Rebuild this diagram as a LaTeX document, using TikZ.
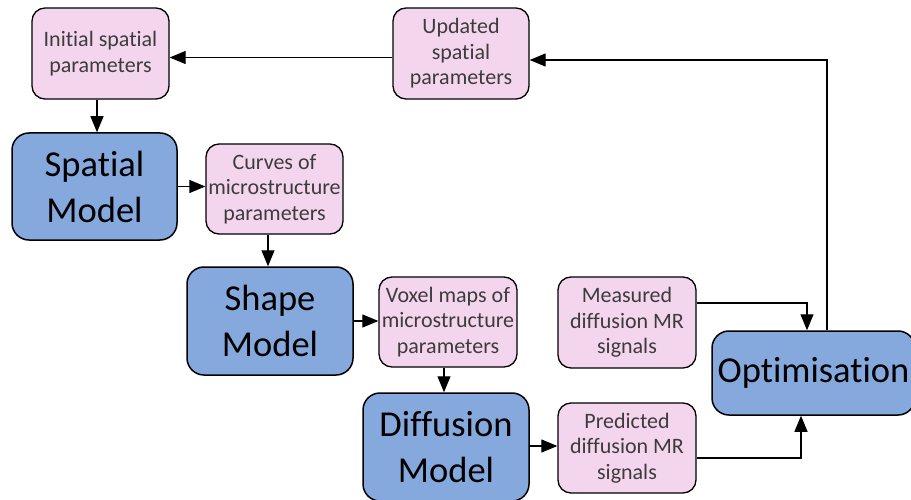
\documentclass[tikz,border=0pt]{standalone}
\usepackage{fontspec}
\setmainfont{Carlito}[Ligatures={NoCommon,NoContextual,NoRare}]
\usetikzlibrary{arrows.meta}
\definecolor{pinkfill}{RGB}{244,213,238}
\definecolor{bluefill}{RGB}{133,169,221}
\definecolor{pinktext}{RGB}{60,60,60}
\newcommand\myti{t\kern0pt i}
\tikzset{
  pinkbox/.style={draw=black, line width=1.3pt, fill=pinkfill, rounded corners=13pt,
    inner sep=0pt, align=center, text=pinktext, font=\fontsize{22}{25.5}\selectfont},
  bluebox/.style={draw=black, line width=1.5pt, fill=bluefill, rounded corners=17pt,
    inner sep=0pt, align=center, text=black, font=\fontsize{36.5}{46}\selectfont},
  arr/.style={draw=black, line width=1.2pt, -{Triangle[length=16pt,width=13pt]}},
}
\begin{document}
\begin{tikzpicture}[x=1pt,y=-1pt]
\useasboundingbox (0,0) rectangle (911,500);
\node[pinkbox, minimum width=137pt, minimum height=91pt] (init) at (100.5,53.5) {Ini\myti al spa\myti al\\parameters};
\node[pinkbox, minimum width=136pt, minimum height=91pt] (upd) at (461,53.5) {Updated\\spa\myti al\\parameters};
\node[bluebox, minimum width=165pt, minimum height=107pt] (spatial) at (94.5,186.5) {Spa\myti al\\Model};
\node[pinkbox, minimum width=137pt, minimum height=90pt] (curves) at (274.5,189) {Curves of\\microstructure\\parameters};
\node[bluebox, minimum width=166pt, minimum height=108pt] (shape) at (270,321) {Shape\\Model};
\node[pinkbox, minimum width=138pt, minimum height=90pt] (voxel) at (448,322) {Voxel maps of\\microstructure\\parameters};
\node[bluebox, minimum width=166pt, minimum height=108pt] (diff) at (446,447) {Diffusion\\Model};
\node[pinkbox, minimum width=138pt, minimum height=91pt] (meas) at (627,322.5) {Measured\\diffusion MR\\signals};
\node[pinkbox, minimum width=138pt, minimum height=90pt] (pred) at (627,448) {Predicted\\diffusion MR\\signals};
\node[bluebox, minimum width=203pt, minimum height=84pt] (opt) at (813.5,373) {Op\myti misa\myti on};
\coordinate (fb) at (827,60);
% connectors
\draw[arr] ([yshift=-4pt]upd.west) -- ([yshift=-4pt]init.east);
\draw[arr] (opt.north -| fb) -- (fb) -- (upd.east |- fb);
\draw[arr] ([xshift=-3.5pt]init.south) -- ([xshift=-3.5pt]init.south |- spatial.north);
\draw[arr] (spatial.east) -- (spatial.east -| curves.west);
\draw[arr] ([xshift=-6.5pt]curves.south) -- ([xshift=-6.5pt]curves.south |- shape.north);
\draw[arr] (shape.east) -- (shape.east -| voxel.west);
\draw[arr] ([xshift=-4pt]voxel.south) -- ([xshift=-4pt]voxel.south |- diff.north);
\draw[arr] ([yshift=1pt]diff.east) -- ([yshift=1pt]diff.east -| pred.west);
\draw[arr] ([yshift=19.5pt]meas.east) -| ([xshift=-6.5pt]opt.north);
\draw[arr] ([yshift=-10pt]pred.east) -| ([xshift=-12.5pt]opt.south);
\end{tikzpicture}
\end{document}
